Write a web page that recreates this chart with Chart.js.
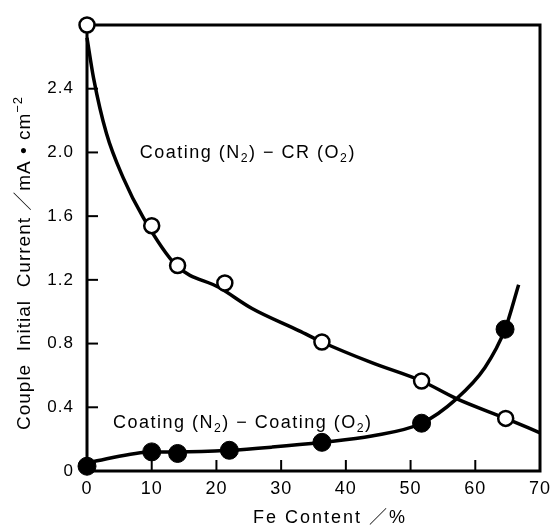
<!DOCTYPE html>
<html>
<head>
<meta charset="utf-8">
<script src="https://cdn.jsdelivr.net/npm/chart.js@4.4.1/dist/chart.umd.min.js"></script>
<style>
  html, body { margin: 0; padding: 0; background: #fff; }
  #wrap { width: 550px; height: 527px; }
</style>
</head>
<body>
<div id="wrap"><canvas id="myChart" width="550" height="527"></canvas></div>
<script>
// measured points, Coating(N2) - CR(O2)
const feOpen = [0, 10, 14, 21.3, 36.3, 51.7, 64.7];
const curOpen = [2.8, 1.54, 1.29, 1.18, 0.81, 0.565, 0.33];

// measured points, Coating(N2) - Coating(O2)
const feFilled = [0, 10, 14, 22, 36.3, 51.7, 64.6];
const curFilled = [0.03, 0.12, 0.11, 0.13, 0.18, 0.30, 0.89];

// fitted curves
const feUpperCurve = [0, 1, 3, 5.6, 8.7, 13.8, 20.5, 25.5, 32.8, 36.3, 44, 51.7, 57, 64.7, 70];
const curUpperCurve = [2.72, 2.47, 2.12, 1.84, 1.59, 1.29, 1.15, 1.02, 0.88, 0.81, 0.68, 0.565, 0.456, 0.33, 0.24];
const feLowerCurve = [1, 10, 14, 22, 28.6, 36.3, 44, 51.7, 57, 61.5, 64.6, 66.7];
const curLowerCurve = [0.06, 0.12, 0.12, 0.13, 0.15, 0.18, 0.22, 0.30, 0.45, 0.65, 0.89, 1.17];

const xTicks = [0, 10, 20, 30, 40, 50, 60, 70];
const yTicks = [0, 0.4, 0.8, 1.2, 1.6, 2.0, 2.4];

const SANS = '"Liberation Sans", Arial, "Noto Sans CJK JP", sans-serif';

function pts(xs, ys) {
  return xs.map(function (x, i) { return { x: x, y: ys[i] }; });
}

// text with sub/superscript parts: [text, kind] kind 0 normal, 1 sub, 2 sup
function drawRich(ctx, parts, x, y, size) {
  var cx = x;
  parts.forEach(function (p) {
    var s = p[1] ? size * 0.68 : size;
    ctx.font = s + 'px ' + SANS;
    var dy = p[1] === 1 ? size * 0.22 : (p[1] === 2 ? -size * 0.42 : 0);
    ctx.fillText(p[0], cx, y + dy);
    cx += ctx.measureText(p[0]).width;
  });
  return cx - x;
}

function richWidth(ctx, parts, size) {
  var w = 0;
  parts.forEach(function (p) {
    ctx.font = (p[1] ? size * 0.68 : size) + 'px ' + SANS;
    w += ctx.measureText(p[0]).width;
  });
  return w;
}

const frameAndLabels = {
  id: 'frameAndLabels',
  beforeDraw: function (chart) {
    chart.ctx.letterSpacing = '1px';
  },
  beforeDatasetsDraw: function (chart) {
    var ctx = chart.ctx, a = chart.chartArea;
    var xs = chart.scales.x, ys = chart.scales.y;
    ctx.save();
    ctx.strokeStyle = '#000';
    // inward ticks
    ctx.lineWidth = 2;
    xTicks.forEach(function (v) {
      if (v === 0 || v === 70) return;
      var px = xs.getPixelForValue(v);
      ctx.beginPath(); ctx.moveTo(px, a.bottom); ctx.lineTo(px, a.bottom - 11); ctx.stroke();
    });
    yTicks.forEach(function (v) {
      if (v === 0) return;
      var py = ys.getPixelForValue(v);
      ctx.beginPath(); ctx.moveTo(a.left, py); ctx.lineTo(a.left + 11, py); ctx.stroke();
    });
    // frame
    ctx.lineWidth = 3;
    ctx.strokeRect(a.left, a.top, a.right - a.left, a.bottom - a.top);
    ctx.restore();
  },
  afterDatasetsDraw: function (chart) {
    var ctx = chart.ctx, a = chart.chartArea;
    var xs = chart.scales.x, ys = chart.scales.y;
    ctx.save();
    ctx.fillStyle = '#000';
    ctx.textBaseline = 'alphabetic';
    ctx.letterSpacing = '1.5px';
    drawRich(ctx, [['Coating (N', 0], ['2', 1], [') \u2212 CR (O', 0], ['2', 1], [')', 0]],
      xs.getPixelForValue(8.15), ys.getPixelForValue(1.965), 18);
    drawRich(ctx, [['Coating (N', 0], ['2', 1], [') \u2212 Coating (O', 0], ['2', 1], [')', 0]],
      xs.getPixelForValue(4), ys.getPixelForValue(0.27), 18);

    // x axis title
    ctx.letterSpacing = '2px';
    var xt = [['Fe Content \uFF0F%', 0]];
    var wx = richWidth(ctx, xt, 18);
    drawRich(ctx, xt, 330 - wx / 2, 523, 18);

    // y axis title, rotated
    ctx.letterSpacing = '1px';
    var yt = [['Couple  Initial  Current \uFF0FmA \u2022 cm', 0], ['\u22122', 2]];
    var wy = richWidth(ctx, yt, 19);
    ctx.translate(30, 263);
    ctx.rotate(-Math.PI / 2);
    drawRich(ctx, yt, -wy / 2, 0, 19);
    ctx.restore();
  }
};

new Chart(document.getElementById('myChart'), {
  type: 'scatter',
  data: {
    datasets: [
      {
        label: 'Coating(N2)-CR(O2)',
        data: pts(feOpen, curOpen),
        showLine: false,
        pointRadius: 7.5,
        pointBackgroundColor: '#fff',
        pointBorderColor: '#000',
        pointBorderWidth: 2.5,
        clip: false,
        order: 1
      },
      {
        label: 'Coating(N2)-Coating(O2)',
        data: pts(feFilled, curFilled),
        showLine: false,
        pointRadius: 9,
        pointBackgroundColor: '#000',
        pointBorderColor: '#000',
        pointBorderWidth: 1,
        clip: false,
        order: 1
      },
      {
        label: 'fit upper',
        data: pts(feUpperCurve, curUpperCurve),
        showLine: true,
        cubicInterpolationMode: 'monotone',
        borderColor: '#000',
        borderWidth: 3.5,
        pointRadius: 0,
        clip: false,
        order: 2
      },
      {
        label: 'fit lower',
        data: pts(feLowerCurve, curLowerCurve),
        showLine: true,
        cubicInterpolationMode: 'monotone',
        borderColor: '#000',
        borderWidth: 3.5,
        pointRadius: 0,
        clip: false,
        order: 2
      }
    ]
  },
  options: {
    responsive: false,
    animation: false,
    layout: { padding: { top: 25, right: 8, left: 0, bottom: 0 } },
    plugins: {
      legend: { display: false },
      tooltip: { enabled: false }
    },
    scales: {
      x: {
        type: 'linear',
        min: 0,
        max: 70,
        afterBuildTicks: function (s) { s.ticks = xTicks.map(function (v) { return { value: v }; }); },
        afterFit: function (s) { s.height = 56; s.paddingLeft = 0; s.paddingRight = 0; },
        grid: { display: false, drawTicks: false },
        border: { display: false },
        ticks: {
          color: '#000',
          padding: 7,
          font: { family: SANS, size: 18 }
        },
        title: { display: false }
      },
      y: {
        type: 'linear',
        min: 0,
        max: 2.8,
        afterBuildTicks: function (s) { s.ticks = yTicks.map(function (v) { return { value: v }; }); },
        afterFit: function (s) { s.width = 87; s.paddingTop = 0; s.paddingBottom = 0; },
        grid: { display: false, drawTicks: false },
        border: { display: false },
        ticks: {
          color: '#000',
          padding: 13,
          font: { family: SANS, size: 17 },
          callback: function (v) { return v === 0 ? '0' : v.toFixed(1); }
        },
        title: { display: false }
      }
    }
  },
  plugins: [frameAndLabels]
});
</script>
</body>
</html>
